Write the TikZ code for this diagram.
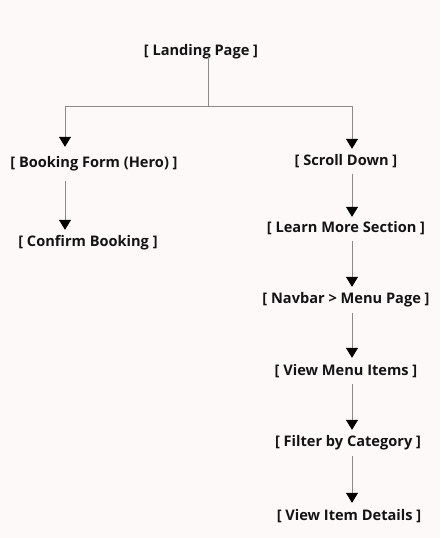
\documentclass[tikz,border=0pt]{standalone}
\usepackage{fontspec}
\setmainfont{Open Sans}
\usetikzlibrary{arrows.meta}
\definecolor{bg}{HTML}{FCF9F8}
\definecolor{ln}{HTML}{8A8A8A}
\begin{document}
\begin{tikzpicture}[x=1pt,y=-1pt,
  lbl/.style={font=\fontsize{14.6}{16}\selectfont\bfseries, text=black!92, inner sep=0pt, minimum height=22pt},
  conn/.style={draw=ln, line width=0.7pt, -{Triangle[width=12pt,length=10pt,color=black]}}]
\fill[bg] (0,0) rectangle (440,538);
\useasboundingbox (0,0) rectangle (440,538);
\node[lbl] (land) at (201,52) {[ Landing Page ]};
\node[lbl] (book) at (94,164) {[ Booking Form (Hero) ]};
\node[lbl] (conf) at (88,243) {[ Confirm Booking ]};
\node[lbl] (scroll) at (346,161) {[ Scroll Down ]};
\node[lbl] (learn) at (346,228) {[ Learn More Section ]};
\node[lbl] (nav) at (346,300) {[ Navbar > Menu Page ]};
\node[lbl] (menu) at (346,371) {[ View Menu Items ]};
\node[lbl] (filt) at (348,443) {[ Filter by Category ]};
\node[lbl] (det) at (349,516) {[ View Item Details ]};
\coordinate (j) at (208,106);
\draw[draw=ln, line width=0.7pt] ([yshift=6pt]land.south -| j) -- (j);
\draw[conn] (j) -| ([yshift=6pt]book.north -| 65,0);
\draw[conn] (j) -| ([yshift=1pt]scroll.north -| 352,0);
\draw[conn] ([yshift=-6pt]book.south -| 65,0) -- ([yshift=2pt]conf.north -| 65,0);
\draw[conn] ([yshift=-2pt]scroll.south -| 352,0) -- (learn.north -| 352,0);
\draw[conn] ([yshift=-2pt]learn.south -| 352,0) -- ([yshift=2pt]nav.north -| 352,0);
\draw[conn] ([yshift=-2pt]nav.south -| 352,0) -- ([yshift=2pt]menu.north -| 352,0);
\draw[conn] ([yshift=-2pt]menu.south -| 352,0) -- ([yshift=2pt]filt.north -| 352,0);
\draw[conn] ([yshift=-2pt]filt.south -| 352,0) -- ([yshift=2pt]det.north -| 352,0);
\end{tikzpicture}
\end{document}
